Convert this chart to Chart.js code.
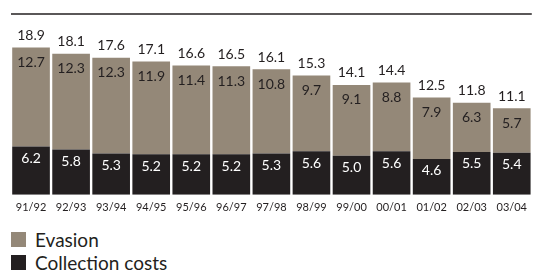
<!DOCTYPE html>
<html>
<head>
<meta charset="utf-8">
<script src="https://cdn.jsdelivr.net/npm/chart.js@4/dist/chart.umd.min.js"></script>
<style>
  html, body { margin: 0; padding: 0; background: #fff; }
  body { width: 533px; height: 270px; position: relative; overflow: hidden; font-family: Lato, "DejaVu Sans", sans-serif; }
  #chart { position: absolute; left: 0; top: 0; }
  .legend { position: absolute; left: 11px; color: #231f20; font-size: 19px; line-height: 15px; white-space: nowrap; }
  .legend span.box { display: inline-block; width: 15px; height: 15px; vertical-align: top; margin-right: 9px; }
</style>
</head>
<body>
<canvas id="chart" width="533" height="222"></canvas>
<div class="legend" style="top:232px"><span class="box" style="background:#948878"></span>Evasion</div>
<div class="legend" style="top:255px"><span class="box" style="background:#231f20"></span>Collection costs</div>
<script>
const years = ['91/92', '92/93', '93/94', '94/95', '95/96', '96/97', '97/98', '98/99', '99/00', '00/01', '01/02', '02/03', '03/04'];
const collectionCosts = [6.2, 5.8, 5.3, 5.2, 5.2, 5.2, 5.3, 5.6, 5.0, 5.6, 4.6, 5.5, 5.4];
const evasion = [12.7, 12.3, 12.3, 11.9, 11.4, 11.3, 10.8, 9.7, 9.1, 8.8, 7.9, 6.3, 5.7];
const totals = [18.9, 18.1, 17.6, 17.1, 16.6, 16.5, 16.1, 15.3, 14.1, 14.4, 12.5, 11.8, 11.1];

const fontFamily = 'Lato, "DejaVu Sans", sans-serif';

// top rule + value labels on the bars
const barLabels = {
    id: 'barLabels',
    afterDatasetsDraw(chart) {
        const ctx = chart.ctx;
        const area = chart.chartArea;
        ctx.save();
        ctx.strokeStyle = '#231f20';
        ctx.lineWidth = 1.5;
        ctx.beginPath();
        ctx.moveTo(area.left, area.top);
        ctx.lineTo(area.right, area.top);
        ctx.stroke();

        const low = chart.getDatasetMeta(0).data;
        const high = chart.getDatasetMeta(1).data;
        ctx.font = '14px ' + fontFamily;
        ctx.textAlign = 'center';
        ctx.textBaseline = 'middle';
        for (let i = 0; i < years.length; i++) {
            ctx.fillStyle = '#ffffff';
            ctx.fillText(collectionCosts[i].toFixed(1), low[i].x, low[i].y + 12);
            ctx.fillStyle = '#231f20';
            ctx.fillText(evasion[i].toFixed(1), high[i].x, high[i].y + 15);
            ctx.fillText(totals[i].toFixed(1), high[i].x, high[i].y - 12);
        }
        ctx.restore();
    }
};

new Chart(document.getElementById('chart'), {
    type: 'bar',
    data: {
        labels: years,
        datasets: [
            { label: 'Collection costs', data: collectionCosts, backgroundColor: '#231f20', borderWidth: 0 },
            { label: 'Evasion', data: evasion, backgroundColor: '#948878', borderWidth: 0 },
        ],
    },
    options: {
        responsive: false,
        animation: false,
        layout: { padding: { left: 11, right: 0, top: 14, bottom: 2 } },
        datasets: { bar: { categoryPercentage: 1, barPercentage: 0.94 } },
        scales: {
            x: {
                stacked: true,
                grid: { display: false, drawTicks: false },
                border: { display: false },
                ticks: { color: '#231f20', font: { family: fontFamily, size: 11 }, padding: 6, maxRotation: 0, autoSkip: false },
            },
            y: {
                stacked: true,
                display: false,
                min: 0,
                max: 23.2,
            },
        },
        plugins: {
            legend: { display: false },
            tooltip: { enabled: false },
        },
    },
    plugins: [barLabels],
});
</script>
</body>
</html>
